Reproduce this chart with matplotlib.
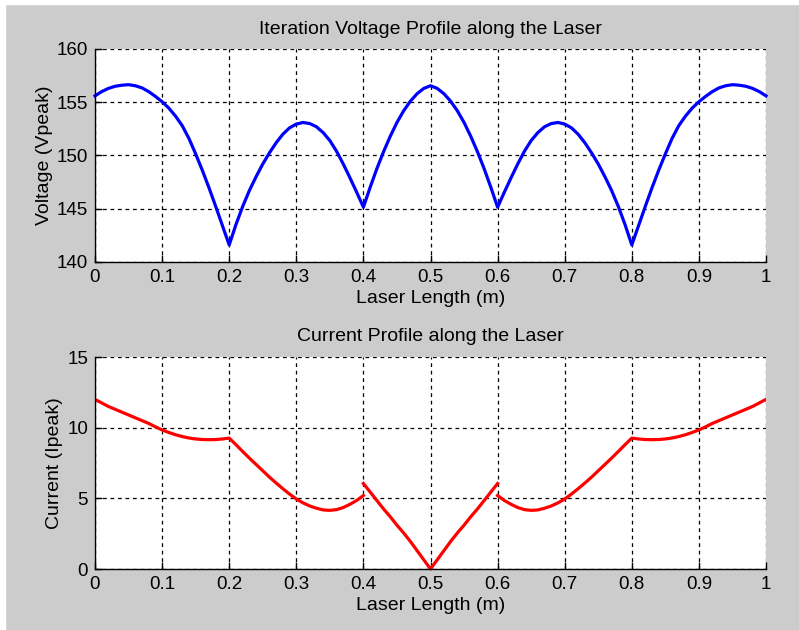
import numpy as np
import matplotlib.pyplot as plt
from matplotlib.patches import Rectangle

plt.rcParams['font.family'] = ['Liberation Sans', 'DejaVu Sans']

# positions along the laser (m), 0.01 step
x_pos = np.round(np.arange(0, 1.0001, 0.01), 2)

# voltage along the laser (Vpeak)
voltage = [155.6, 156.0, 156.3, 156.5, 156.6, 156.65, 156.55, 156.35, 156.0, 155.55,
           155.05, 154.45, 153.7, 152.8, 151.6, 150.15, 148.6, 146.95, 145.2, 143.4,
           141.6, 143.5, 145.2, 146.7, 148.0, 149.2, 150.25, 151.2, 152.0, 152.6,
           152.95, 153.1, 153.0, 152.7, 152.15, 151.4, 150.4, 149.2, 147.9, 146.55,
           145.15, 147.0, 148.75, 150.35, 151.8, 153.1, 154.2, 155.1, 155.8, 156.3,
           156.55,
           156.3, 155.8, 155.1, 154.2, 153.1, 151.8, 150.35, 148.75, 147.0, 145.15,
           146.55, 147.9, 149.2, 150.4, 151.4, 152.15, 152.7, 153.0, 153.1, 152.95,
           152.6, 152.0, 151.2, 150.25, 149.2, 148.0, 146.7, 145.2, 143.5, 141.6,
           143.4, 145.2, 146.95, 148.6, 150.15, 151.6, 152.8, 153.7, 154.45, 155.05,
           155.55, 156.0, 156.35, 156.55, 156.65, 156.6, 156.5, 156.3, 156.0, 155.6]

# current along the laser (Ipeak), three pieces split at 0.4 and 0.6 m
cur_a = [12.0, 11.75, 11.5, 11.3, 11.1, 10.9, 10.7, 10.5, 10.3, 10.06,
         9.84, 9.66, 9.5, 9.37, 9.27, 9.2, 9.16, 9.15, 9.16, 9.2,
         9.26, 8.8, 8.32, 7.85, 7.4, 6.95, 6.5, 6.08, 5.68, 5.3,
         4.95, 4.68, 4.46, 4.3, 4.18, 4.15, 4.2, 4.35, 4.58, 4.85,
         5.2]
cur_b = [6.05, 5.45, 4.85, 4.25, 3.7, 3.1, 2.55, 1.95, 1.3, 0.65,
         0.0, 0.65, 1.3, 1.95, 2.55, 3.1, 3.7, 4.25, 4.85, 5.45, 6.05]
cur_c = [5.2, 4.85, 4.58, 4.35, 4.2, 4.15, 4.18, 4.3, 4.46, 4.68,
         4.95, 5.3, 5.68, 6.08, 6.5, 6.95, 7.4, 7.85, 8.32, 8.8,
         9.26, 9.2, 9.16, 9.15, 9.16, 9.2, 9.27, 9.37, 9.5, 9.66,
         9.84, 10.06, 10.3, 10.5, 10.7, 10.9, 11.1, 11.3, 11.5, 11.75, 12.0]

x_ticks = np.round(np.arange(0, 1.0001, 0.1), 1)
x_tick_labels = ['0', '0.1', '0.2', '0.3', '0.4', '0.5', '0.6', '0.7', '0.8', '0.9', '1']

bg = '#cccccc'
fig = plt.figure(figsize=(7.99, 6.3), dpi=100, facecolor=bg)
# white strip along top and left edge
fig.patches.append(Rectangle((0, 1 - 4 / 630), 1, 4 / 630, transform=fig.transFigure,
                             color='white', zorder=-1))
fig.patches.append(Rectangle((0, 0), 5 / 799, 1, transform=fig.transFigure,
                             color='white', zorder=-1))

ax1 = fig.add_axes([95 / 799, 1 - 262 / 630, 671 / 799, 213 / 630])
ax2 = fig.add_axes([95 / 799, 1 - 569 / 630, 671 / 799, 212 / 630])


def style(ax):
    ax.set_facecolor('white')
    ax.set_xlim(0, 1)
    ax.set_xticks(x_ticks)
    ax.set_xticklabels(x_tick_labels)
    ax.grid(True, color='black', linestyle=(0, (3, 3)), linewidth=0.9)
    ax.set_axisbelow(True)
    for s in ['top', 'right']:
        ax.spines[s].set_visible(False)
    for s in ['left', 'bottom']:
        ax.spines[s].set_linewidth(1.0)
    ax.tick_params(direction='in', length=5, width=1.0, labelsize=13.5, pad=5,
                   top=False, right=False)


lw = 2.3
ax1.plot(x_pos, voltage, color='#0000ff', linewidth=lw, clip_on=False)
style(ax1)
ax1.set_ylim(140, 160)
ax1.set_yticks([140, 145, 150, 155, 160])
ax1.set_title('Iteration Voltage Profile along the Laser', fontsize=14, pad=11)
ax1.set_xlabel('Laser Length (m)', fontsize=14, labelpad=3)
ax1.set_ylabel('Voltage (Vpeak)', fontsize=14, labelpad=3)

ax2.plot(x_pos[0:41], cur_a, color='#ff0000', linewidth=lw)
ax2.plot(x_pos[40:61], cur_b, color='#ff0000', linewidth=lw, clip_on=False)
ax2.plot(x_pos[60:101], cur_c, color='#ff0000', linewidth=lw)
style(ax2)
ax2.set_ylim(0, 15)
ax2.set_yticks([0, 5, 10, 15])
ax2.set_title('Current Profile along the Laser', fontsize=14, pad=11.5)
ax2.set_xlabel('Laser Length (m)', fontsize=14, labelpad=3)
ax2.set_ylabel('Current (Ipeak)', fontsize=14, labelpad=3)

fig.savefig('out.png', dpi=100, facecolor=bg)
